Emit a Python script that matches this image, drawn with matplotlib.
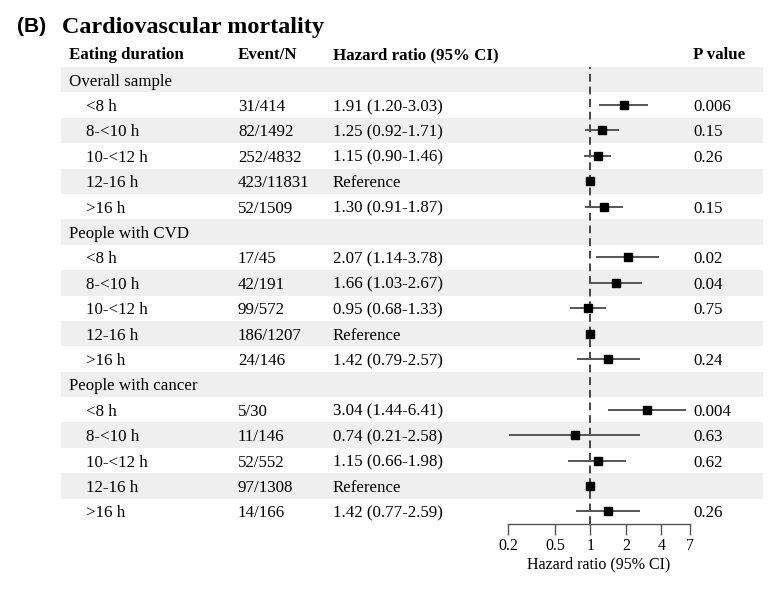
import matplotlib
matplotlib.use("Agg")
import matplotlib.pyplot as plt
import matplotlib.transforms as mtransforms
from matplotlib.patches import Rectangle

# ---- data ----
groups = ["Overall sample", "People with CVD", "People with cancer"]
durations = ["<8 h", "8-<10 h", "10-<12 h", "12-16 h", ">16 h"]
events = [["31/414", "82/1492", "252/4832", "423/11831", "52/1509"],
          ["17/45", "42/191", "99/572", "186/1207", "24/146"],
          ["5/30", "11/146", "52/552", "97/1308", "14/166"]]
hr = [[1.91, 1.25, 1.15, 1.00, 1.30],
      [2.07, 1.66, 0.95, 1.00, 1.42],
      [3.04, 0.74, 1.15, 1.00, 1.42]]
lo = [[1.20, 0.92, 0.90, None, 0.91],
      [1.14, 1.03, 0.68, None, 0.79],
      [1.44, 0.21, 0.66, None, 0.77]]
hi = [[3.03, 1.71, 1.46, None, 1.87],
      [3.78, 2.67, 1.33, None, 2.57],
      [6.41, 2.58, 1.98, None, 2.59]]
pvals = [["0.006", "0.15", "0.26", "", "0.15"],
         ["0.02", "0.04", "0.75", "", "0.24"],
         ["0.004", "0.63", "0.62", "", "0.26"]]
xticks = [0.2, 0.5, 1, 2, 4, 7]
xticklabels = ["0.2", "0.5", "1", "2", "4", "7"]

W, H = 769, 594
fig = plt.figure(figsize=(W / 100, H / 100), dpi=100)
serif = "Liberation Serif"

def fx(px):
    return px / W

def fy(py):
    return 1 - py / H

ax_left, ax_right = 508, 690
ax_top, ax_bot = 67, 524
ax = fig.add_axes([fx(ax_left), fy(ax_bot), fx(ax_right - ax_left), (ax_bot - ax_top) / H])
ax.set_xscale("log")
ax.set_xlim(0.2, 7)
nrows = len(groups) * (len(durations) + 1)
ax.set_ylim(nrows - 0.5, -0.5)
ax.patch.set_alpha(0)
for s in ["top", "right", "left"]:
    ax.spines[s].set_visible(False)
ax.spines["bottom"].set_color("#555555")
ax.spines["bottom"].set_linewidth(1.0)
ax.set_yticks([])
ax.set_xticks(xticks)
ax.set_xticklabels(xticklabels, fontfamily=serif, fontsize=11.5)
ax.xaxis.set_minor_locator(matplotlib.ticker.NullLocator())
ax.tick_params(axis="x", direction="out", length=8, width=1.0, color="#555555", pad=2)
ax.set_xlabel("Hazard ratio (95% CI)", fontfamily=serif, fontsize=11.5, labelpad=2)

trans = mtransforms.blended_transform_factory(fig.transFigure, ax.transData)

# bands
for r in range(nrows):
    if r % 2 == 0:
        rect = Rectangle((fx(61), r - 0.5), fx(763 - 61), 1.0, transform=trans,
                         facecolor="#efefef", edgecolor="none", zorder=0)
        fig.add_artist(rect)

ax.axvline(1, color="#444444", lw=1.4, ls=(0, (4, 2.5)), zorder=1)

fs = 12.2
va = "center_baseline"
r = 0
for g, grp in enumerate(groups):
    fig.text(fx(69), r, grp, transform=trans, fontfamily=serif, fontsize=fs, va=va, ha="left")
    r += 1
    for i, d in enumerate(durations):
        fig.text(fx(86), r, d, transform=trans, fontfamily=serif, fontsize=fs, va=va)
        fig.text(fx(238), r, events[g][i], transform=trans, fontfamily=serif, fontsize=fs, va=va)
        if lo[g][i] is None:
            txt = "Reference"
        else:
            txt = f"{hr[g][i]:.2f} ({lo[g][i]:.2f}-{hi[g][i]:.2f})"
        fig.text(fx(333), r, txt, transform=trans, fontfamily=serif, fontsize=fs, va=va)
        fig.text(fx(693), r, pvals[g][i], transform=trans, fontfamily=serif, fontsize=fs, va=va)
        if lo[g][i] is not None:
            ax.plot([lo[g][i], hi[g][i]], [r, r], color="#555555", lw=1.4, zorder=2, clip_on=False)
        ax.plot([hr[g][i]], [r], marker="s", ms=5.5, color="black", zorder=3, clip_on=False)
        r += 1

# header
hy = fy(53)
for x, t in [(69, "Eating duration"), (238, "Event/N"), (333, "Hazard ratio (95% CI)"), (693, "P value")]:
    fig.text(fx(x), hy, t, fontfamily=serif, fontsize=fs, fontweight="bold", va=va)

# title
fig.text(fx(17), fy(25), "(B)", fontfamily="Liberation Sans", fontsize=15, fontweight="bold", va=va)
fig.text(fx(62), fy(25), "Cardiovascular mortality", fontfamily=serif, fontsize=17.4, fontweight="bold", va=va)

fig.savefig("out.png", dpi=100)
